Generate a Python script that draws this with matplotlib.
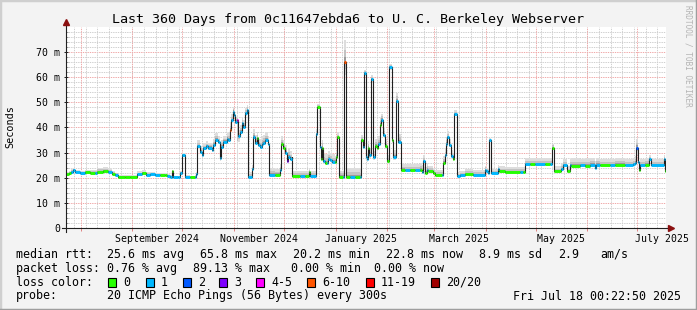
import numpy as np
import matplotlib
matplotlib.use("Agg")
import matplotlib.pyplot as plt
from matplotlib.collections import LineCollection
from matplotlib.patches import Rectangle
from matplotlib.lines import Line2D

W, H = 697, 310
MONO = "DejaVu Sans Mono"
t0 = np.datetime64("2024-07-23T00:22:50")

# median rtt (ms) at day offsets from t0, loss colour index, smoke spread (ms)
day = [0.0, 2.0, 3.2, 4.4, 5.6, 8.6, 11.6, 14.6, 17.6, 18.8,
       22.4, 25.4, 27.8, 29.6, 31.4, 35.6, 38.6, 42.8, 45.8, 48.2,
       50.6, 53.6, 56.6, 59.6, 60.8, 62.6, 63.7, 64.4, 67.4, 68.6,
       69.7, 71.6, 74.6, 77.6, 78.2,
       79.0, 80.6, 81.7, 82.6, 84.2, 85.6, 87.7, 88.6, 89.6, 91.6,
       92.6, 93.2, 94.3, 96.7, 97.6, 98.6, 99.2, 100.3, 101.0, 101.6,
       102.7, 103.6, 104.6, 105.7, 106.6, 107.6, 108.7,
       109.6, 111.7, 112.6, 113.6, 114.7, 115.6, 116.6, 117.7, 118.6, 119.6,
       121.6, 122.2, 125.6, 128.6, 129.2, 130.4, 131.6, 132.7, 133.6, 134.6,
       135.7,
       136.0, 140.6, 143.6, 146.0, 146.6, 150.1, 150.4, 151.0, 152.6, 153.2,
       153.8, 154.6, 155.6, 156.7, 157.6, 158.6, 159.7, 161.6, 162.2, 163.0,
       164.2, 166.6, 167.0, 168.2, 170.6, 173.6, 176.6, 177.1, 178.6, 179.2,
       180.2, 180.7, 181.6, 182.2, 183.1, 184.3, 185.6, 186.7, 187.6, 188.6,
       189.2, 190.6, 191.6, 192.7, 194.2, 195.7, 196.6, 198.2, 199.6,
       201.1, 203.6, 206.6, 209.6, 212.6, 213.7, 214.6, 215.6, 216.7, 217.6,
       220.6, 221.6, 225.7, 226.3, 227.6, 228.2, 229.0, 230.2, 231.1, 232.6,
       233.2, 234.7,
       236.6, 239.6, 244.6, 251.6, 252.2, 253.6, 254.2, 255.2, 259.6, 260.2,
       263.6, 272.6, 274.4, 275.6, 278.6, 281.6, 287.6, 290.6, 291.7, 293.2,
       297.2, 298.4, 300.8, 302.6, 303.2, 308.6, 311.6, 314.6, 317.6, 318.2,
       320.6, 326.6, 329.6, 335.6,
       340.6, 341.6, 342.2, 343.3, 344.2, 344.6, 347.6, 350.2, 351.1, 359.0,
       359.6]

median = [21.4, 21.8, 22.5, 23.1, 22.2, 22.0, 22.2, 22.0, 22.0, 22.5,
          22.6, 22.4, 21.6, 21.3, 20.5, 20.4, 20.5, 21.4, 21.8, 21.3,
          21.4, 21.2, 21.2, 21.1, 20.7, 20.5, 22.6, 20.3, 20.3, 22.0,
          29.1, 20.3, 20.3, 20.4, 21.5,
          32.5, 30.3, 29.0, 31.7, 32.5, 32.0, 31.0, 33.0, 35.2, 34.1,
          27.7, 32.4, 34.4, 35.4, 35.0, 39.0, 42.9, 46.2, 45.0, 42.3,
          42.8, 36.4, 38.3, 41.6, 40.3, 45.6, 46.9,
          20.4, 23.6, 36.3, 34.0, 35.6, 33.0, 32.3, 33.5, 34.0, 35.0,
          33.5, 21.1, 21.1, 23.3, 33.5, 32.0, 30.0, 26.5, 28.2, 27.5,
          28.2,
          20.7, 20.7, 20.7, 22.4, 20.7, 25.9, 37.4, 47.9, 32.4, 27.3,
          32.0, 26.5, 26.0, 25.9, 27.5, 26.9, 26.3, 26.3, 28.3, 36.0,
          20.4, 20.4, 65.8, 20.4, 20.4, 20.4, 20.4, 35.0, 32.4, 61.4,
          28.2, 27.4, 32.0, 28.9, 59.1, 28.2, 32.5, 32.0, 33.5, 40.8,
          43.0, 37.0, 32.5, 26.5, 63.8, 34.9, 28.2, 50.6, 34.4,
          23.3, 23.0, 23.0, 23.0, 23.0, 22.5, 26.5, 21.9, 23.3, 22.8,
          22.0, 21.1, 21.1, 26.0, 28.9, 33.5, 36.0, 32.9, 28.5, 27.3,
          45.3, 20.7,
          21.1, 21.5, 21.1, 23.3, 22.6, 22.0, 34.9, 21.9, 23.4, 22.6,
          22.4, 22.4, 22.4, 25.3, 25.3, 25.3, 25.3, 25.3, 32.0, 22.6,
          23.5, 25.0, 22.6, 25.0, 24.8, 25.0, 24.8, 25.0, 24.1, 25.0,
          25.0, 25.0, 25.0, 25.0,
          25.3, 26.0, 32.0, 26.3, 23.0, 25.0, 25.0, 27.4, 25.0, 27.4,
          22.8]

loss = [0, 0, 1, 1, 1, 1, 0, 0, 1, 0,
        0, 1, 0, 1, 0, 0, 0, 1, 0, 1,
        1, 1, 0, 0, 1, 1, 0, 1, 1, 1,
        1, 1, 0, 1, 1,
        1, 1, 1, 1, 1, 1, 1, 1, 1, 1,
        1, 1, 1, 1, 1, 5, 1, 1, 1, 1,
        4, 1, 1, 1, 1, 1, 1,
        1, 1, 1, 1, 0, 1, 1, 1, 1, 1,
        1, 1, 0, 1, 0, 0, 1, 3, 1, 1,
        0,
        0, 1, 0, 0, 1, 0, 1, 0, 1, 0,
        0, 1, 0, 1, 1, 1, 1, 0, 0, 0,
        0, 1, 5, 0, 1, 0, 1, 0, 1, 1,
        1, 1, 0, 1, 1, 1, 0, 0, 1, 0,
        1, 1, 0, 0, 1, 0, 1, 1, 1,
        0, 1, 0, 1, 0, 1, 1, 0, 1, 0,
        0, 0, 1, 0, 1, 1, 1, 1, 1, 0,
        1, 1,
        1, 0, 1, 1, 1, 1, 1, 1, 1, 0,
        0, 1, 0, 1, 0, 1, 0, 1, 0, 0,
        1, 1, 0, 1, 0, 1, 0, 1, 1, 1,
        0, 1, 0, 1,
        1, 1, 2, 1, 0, 1, 0, 1, 1, 1,
        0]

smoke_up = [0.8, 1.0, 1.2, 1.0, 1.0, 0.9, 1.0, 1.0, 1.2, 1.6,
            1.8, 1.5, 1.0, 0.8, 0.6, 0.6, 0.6, 1.2, 1.3, 1.0,
            1.0, 0.9, 0.9, 0.8, 0.8, 0.6, 0.6, 0.6, 0.6, 0.8,
            0.8, 0.8, 0.6, 0.8, 0.8,
            2.5, 2.5, 2.5, 2.0, 2.0, 2.0, 2.5, 2.5, 2.5, 2.5,
            3.0, 2.5, 2.0, 2.5, 3.0, 3.0, 2.5, 2.0, 2.0, 2.0,
            2.0, 2.5, 2.5, 2.5, 2.5, 2.0, 2.0,
            2.0, 1.5, 3.0, 3.0, 2.5, 2.5, 3.0, 3.0, 3.0, 3.0,
            3.0, 3.0, 2.5, 2.0, 3.0, 3.0, 3.0, 2.5, 3.5, 3.0,
            2.5,
            2.0, 2.0, 2.0, 1.5, 2.0, 2.0, 2.0, 1.5, 3.0, 3.0,
            3.0, 3.0, 3.5, 3.5, 3.0, 3.0, 3.0, 2.5, 2.5, 2.0,
            2.5, 2.5, 8.8, 3.5, 3.5, 3.5, 3.0, 2.0, 2.5, 1.5,
            2.5, 2.5, 2.5, 2.5, 1.5, 2.5, 3.0, 3.0, 3.0, 3.0,
            2.5, 3.0, 3.0, 2.5, 1.5, 3.0, 3.0, 3.0, 3.0,
            2.0, 2.5, 2.5, 2.5, 3.0, 2.5, 2.5, 2.5, 2.5, 2.0,
            2.0, 2.0, 2.0, 2.5, 2.5, 2.5, 2.5, 2.5, 2.5, 2.5,
            1.5, 1.5,
            1.5, 2.0, 2.0, 1.5, 1.5, 1.5, 0.8, 1.5, 1.5, 2.0,
            2.0, 2.0, 2.0, 2.5, 2.5, 2.5, 2.5, 2.5, 1.5, 2.0,
            2.0, 2.5, 2.0, 2.5, 3.0, 2.5, 3.0, 3.0, 2.5, 3.0,
            2.5, 2.5, 3.0, 2.5,
            2.5, 2.5, 3.5, 2.5, 2.0, 2.5, 3.0, 1.5, 2.5, 1.5,
            1.5]

smoke_dn = [0.4] * 35 + \
           [0.8, 0.8, 0.8, 0.8, 0.8, 0.8, 0.8, 0.8, 0.8, 0.8,
            1.0, 0.8, 0.8, 0.8, 0.8, 4.0, 1.0, 1.0, 1.0, 1.0,
            16.0, 2.0, 1.0, 1.0, 1.0, 1.0, 1.0] + \
           [0.5] * 21 + [0.5] * 20 + \
           [0.5, 0.5, 5.0, 0.5, 0.5, 0.5, 0.5, 1.0, 1.0, 1.0,
            1.0, 1.0, 1.0, 1.0, 1.0, 1.0, 1.0, 1.0, 1.0, 1.0,
            1.0, 1.0, 1.0, 1.0, 1.0, 1.0, 1.0, 1.0, 1.0] + \
           [0.5] * 22 + [0.5] * 34 + \
           [0.5, 0.5, 3.0, 0.5, 0.5, 0.5, 0.5, 0.5, 0.5, 0.5, 0.5]

loss_labels = ["0", "1", "2", "3", "4-5", "6-10", "11-19", "20/20"]
loss_colors = ["#26ff00", "#00b8ff", "#0059ff", "#7e00ff",
               "#ff00ff", "#ff5500", "#ff0000", "#a10000"]

label_months = ["2024-09", "2024-11", "2025-01", "2025-03", "2025-05", "2025-07"]
label_names = ["September 2024", "November 2024", "January 2025",
               "March 2025", "May 2025", "July 2025"]

title = "Last 360 Days from 0c11647ebda6 to U. C. Berkeley Webserver"
stats = [
    ["median rtt:", "25.6 ms avg", "65.8 ms max", "20.2 ms min",
     "22.8 ms now", "8.9 ms sd", "2.9", "am/s"],
    ["packet loss:", "0.76 % avg", "89.13 % max", "0.00 % min", "0.00 % now"],
]
probe = "20 ICMP Echo Pings (56 Bytes) every 300s"
stamp = "Fri Jul 18 00:22:50 2025"


def to_day(d):
    return (np.datetime64(d) - t0) / np.timedelta64(1, "D")


def fx(x):
    return x / W


def fy(y):
    return 1 - y / H


fig = plt.figure(figsize=(W / 100, H / 100), dpi=100, facecolor="#f3f3f3")
ax = fig.add_axes([fx(65.6), fy(228.3), 600 / W, (228.3 - 26.5) / H])
ax.set_xlim(0, 360)
ax.set_ylim(0, 80)
ax.set_facecolor("white")
for s in ax.spines.values():
    s.set_visible(False)

# grid
minor_c, major_c = "#cfcfcf", "#f0a8a8"
dash = (0, (1.4, 1.0))
for v in range(2, 80, 2):
    if v % 10:
        ax.axhline(v, color=minor_c, lw=0.7, ls=dash, zorder=1)
for v in range(10, 80, 10):
    ax.axhline(v, color=major_c, lw=0.7, ls=dash, zorder=1)
weeks = np.arange(np.datetime64("2024-07-28"), np.datetime64("2025-07-18"),
                  np.timedelta64(7, "D"))
for w in weeks:
    ax.axvline(to_day(w), color=minor_c, lw=0.7, ls=dash, zorder=1)
months = np.arange(np.datetime64("2024-08"), np.datetime64("2025-08"),
                   dtype="datetime64[M]")
month_days = [to_day(m.astype("datetime64[s]")) for m in months]
for m in month_days:
    ax.axvline(m, color=major_c, lw=0.7, ls=dash, zorder=1)

# smoke + median
x = np.append(day, 360.0)
med = np.append(median, median[-1])
up = np.append(smoke_up, smoke_up[-1])
dn = np.append(smoke_dn, smoke_dn[-1])
ax.fill_between(x, med - dn, med + up, step="post", color="#dddddd", lw=0, zorder=2)
ax.fill_between(x, med - dn * 0.5, med + up * 0.55, step="post", color="#c2c2c2", lw=0, zorder=2)
ax.fill_between(x, med, med + up * 0.25, step="post", color="#9a9a9a", lw=0, zorder=2)
ax.step(x, med, where="post", color="#202020", lw=0.8, zorder=3)

segs = [[(x[i], median[i]), (x[i + 1], median[i])] for i in range(len(median))]
cols = [loss_colors[k] for k in loss]
ax.add_collection(LineCollection(segs, colors=cols, linewidths=2.1,
                                 capstyle="butt", zorder=4))

# axes, ticks, arrows
ax.plot([-2.0, 362.2], [0, 0], color="#202020", lw=0.8, clip_on=False, zorder=5)
ax.plot([0, 0], [-1.5, 81.0], color="#202020", lw=0.8, clip_on=False, zorder=5)
ax.plot([363.3], [0], marker=">", ms=4, color="#8b1010", clip_on=False, zorder=6)
ax.plot([0], [81.8], marker="^", ms=4, color="#8b1010", clip_on=False, zorder=6)

ax.set_yticks(range(0, 80, 10))
ax.set_yticklabels(["0"] + ["%d m" % v for v in range(10, 80, 10)])
ax.set_yticks(range(2, 80, 2), minor=True)
ax.tick_params(axis="y", which="major", direction="inout", length=3, width=0.7,
               color="#202020", pad=2.4, labelsize=7.1)
ax.tick_params(axis="y", which="minor", direction="in", length=1.5, width=0.6,
               color="#909090")
ax.set_xticks([to_day(m + "-16") for m in label_months])
ax.set_xticklabels(label_names)
ax.set_xticks(month_days, minor=True)
ax.tick_params(axis="x", which="major", length=0, pad=4.2, labelsize=7.1)
ax.tick_params(axis="x", which="minor", direction="out", length=2, width=0.7,
               color="#e08080")
for lab in ax.get_xticklabels() + ax.get_yticklabels():
    lab.set_family(MONO)

# texts
fig.text(fx(348.5), fy(19), title, ha="center", va="center", fontsize=9.6, family=MONO)
fig.text(fx(10), fy(127), "Seconds", rotation=90, ha="center", va="center",
         fontsize=7.3, family=MONO)
fig.text(fx(688), fy(5), "RRDTOOL / TOBI OETIKER", rotation=270, ha="center", va="top",
         fontsize=5.6, family=MONO, color="#b4b4b4")

fs = 8.35
col_x = [[16, 107, 200, 293, 386, 479, 558, 600],
         [16, 107, 193.3, 291.0, 373.5]]
for row, xs, yy in zip(stats, col_x, [254.3, 268.3]):
    for txt, xx in zip(row, xs):
        fig.text(fx(xx), fy(yy), txt, ha="left", va="center", fontsize=fs, family=MONO)

fig.text(fx(16), fy(282.3), "loss color:", ha="left", va="center", fontsize=fs, family=MONO)
box_x = [108.3, 145.7, 182.7, 219.3, 256, 307.3, 365.7, 430.7]
for bx, c, lab in zip(box_x, loss_colors, loss_labels):
    fig.add_artist(Rectangle((fx(bx), fy(286.7)), 8 / W, 9 / H, transform=fig.transFigure,
                             facecolor=c, edgecolor="black", lw=0.8))
    fig.text(fx(bx + 15), fy(282.3), lab, ha="left", va="center", fontsize=fs, family=MONO)

fig.text(fx(16), fy(296), "probe:", ha="left", va="center", fontsize=fs, family=MONO)
fig.text(fx(107), fy(296), probe, ha="left", va="center", fontsize=fs, family=MONO)
fig.text(fx(513), fy(296), stamp, ha="left", va="center", fontsize=fs, family=MONO)

# 3d frame
fig.add_artist(Line2D([0, 0, 1], [0, 1, 1], transform=fig.transFigure,
                      color="#cfcfcf", lw=2.5))
fig.add_artist(Line2D([0, 1, 1], [0, 0, 1], transform=fig.transFigure,
                      color="#9e9e9e", lw=2.5))

fig.savefig("out.png", dpi=100, facecolor=fig.get_facecolor())
